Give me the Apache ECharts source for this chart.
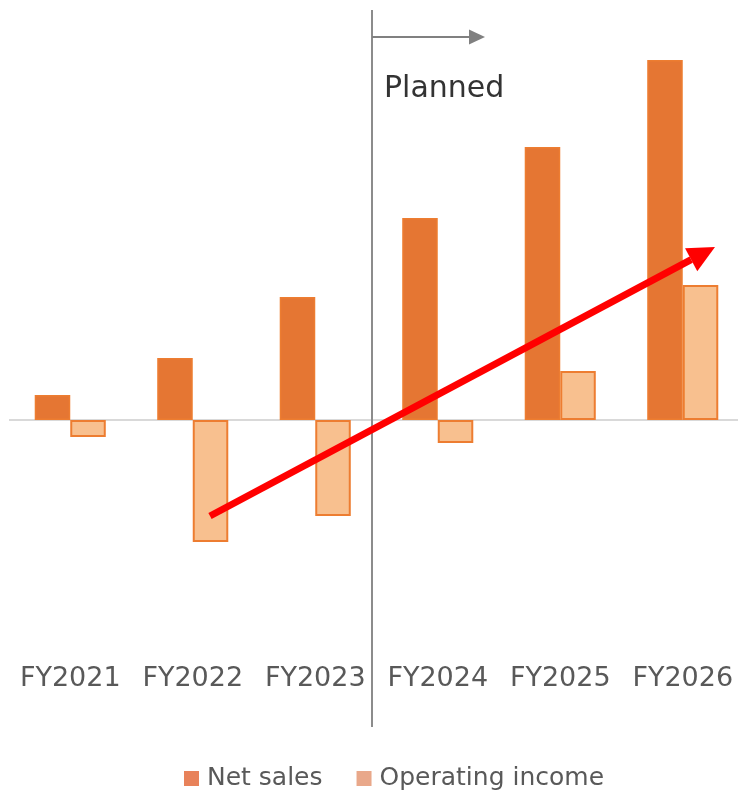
<!DOCTYPE html>
<html>
<head>
<meta charset="utf-8">
<script src="https://cdn.jsdelivr.net/npm/echarts@6/dist/echarts.min.js"></script>
<style>
html,body{margin:0;padding:0;background:#fff;}
#chart{width:738px;height:791px;}
</style>
</head>
<body>
<div id="chart"></div>
<script>
const categories = ['FY2021','FY2022','FY2023','FY2024','FY2025','FY2026'];
const netSales = [25, 62, 123, 202, 273, 360];
const operatingIncome = [-17, -122, -96, -23, 49, 135];
const seriesNames = ['Net sales', 'Operating income'];
const plannedLabel = 'Planned';

const chart = echarts.init(document.getElementById('chart'), null, {renderer:'canvas'});

// annotation geometry (pixels)
const sepX = 372, sepTop = 10, sepBottom = 727;
const grayArrow = {x1: 372, y1: 37, x2: 485, y2: 37};
const redArrow = {x1: 210, y1: 516, x2: 715, y2: 247};

function arrowHead(a, len, half) {
  const dx = a.x2 - a.x1, dy = a.y2 - a.y1;
  const L = Math.sqrt(dx*dx + dy*dy);
  const ux = dx / L, uy = dy / L;
  const bx = a.x2 - ux*len, by = a.y2 - uy*len;
  return {
    base: [bx, by],
    pts: [[a.x2, a.y2], [bx - uy*half, by + ux*half], [bx + uy*half, by - ux*half]]
  };
}
const gh = arrowHead(grayArrow, 16, 7.5);
const rh = arrowHead(redArrow, 27, 13);

const option = {
  animation: false,
  backgroundColor: '#ffffff',
  textStyle: {fontFamily: 'DejaVu Sans'},
  grid: {left: 9, width: 735, top: 20, bottom: 136, containLabel: false, outerBoundsMode: 'none'},
  legend: {
    bottom: -5,
    left: 179,
    itemWidth: 15,
    itemHeight: 15,
    itemGap: 34,
    icon: 'rect',
    textStyle: {fontSize: 25, color: '#595959', fontFamily: 'DejaVu Sans', padding: [0,0,0,3]},
    data: [
      {name: seriesNames[0], itemStyle: {color: '#E8825A', borderWidth: 0}},
      {name: seriesNames[1], itemStyle: {color: '#E9A88A', borderWidth: 0}}
    ]
  },
  xAxis: {
    type: 'category',
    data: categories,
    axisLine: {show: false, onZero: false},
    axisTick: {show: false},
    axisLabel: {fontSize: 27, color: '#595959', margin: 10, interval: 0, fontFamily: 'DejaVu Sans'},
    splitLine: {show: false}
  },
  yAxis: {
    type: 'value',
    min: -235,
    max: 400,
    show: false,
    splitLine: {show: false}
  },
  series: [
    {
      name: seriesNames[0],
      type: 'bar',
      data: netSales,
      barGap: '0%',
      barCategoryGap: '42%',
      itemStyle: {color: '#E57633', borderColor: '#ED7D31', borderWidth: 1.5},
      z: 2,
      markLine: {
        silent: true,
        symbol: ['none','none'],
        label: {show: false},
        lineStyle: {color: '#D9D9D9', width: 2, type: 'solid'},
        data: [{yAxis: 0}],
        z: 1
      }
    },
    {
      name: seriesNames[1],
      type: 'bar',
      data: operatingIncome,
      itemStyle: {color: '#F8C08F', borderColor: '#ED7D31', borderWidth: 2},
      z: 2
    }
  ],
  graphic: [
    {type: 'line', z: 100, shape: {x1: sepX, y1: sepTop, x2: sepX, y2: sepBottom},
     style: {stroke: '#8C8C8C', lineWidth: 2}},
    {type: 'line', z: 100, shape: {x1: grayArrow.x1, y1: grayArrow.y1, x2: gh.base[0], y2: gh.base[1]},
     style: {stroke: '#808080', lineWidth: 2}},
    {type: 'polygon', z: 100, shape: {points: gh.pts}, style: {fill: '#808080'}},
    {type: 'text', z: 100, left: 384, top: 74,
     style: {text: plannedLabel, fontSize: 30, fill: '#333333', fontFamily: 'DejaVu Sans'}},
    {type: 'line', z: 100, shape: {x1: redArrow.x1, y1: redArrow.y1, x2: rh.base[0], y2: rh.base[1]},
     style: {stroke: '#FF0000', lineWidth: 7}},
    {type: 'polygon', z: 100, shape: {points: rh.pts}, style: {fill: '#FF0000'}}
  ]
};
chart.setOption(option);
</script>
</body>
</html>
